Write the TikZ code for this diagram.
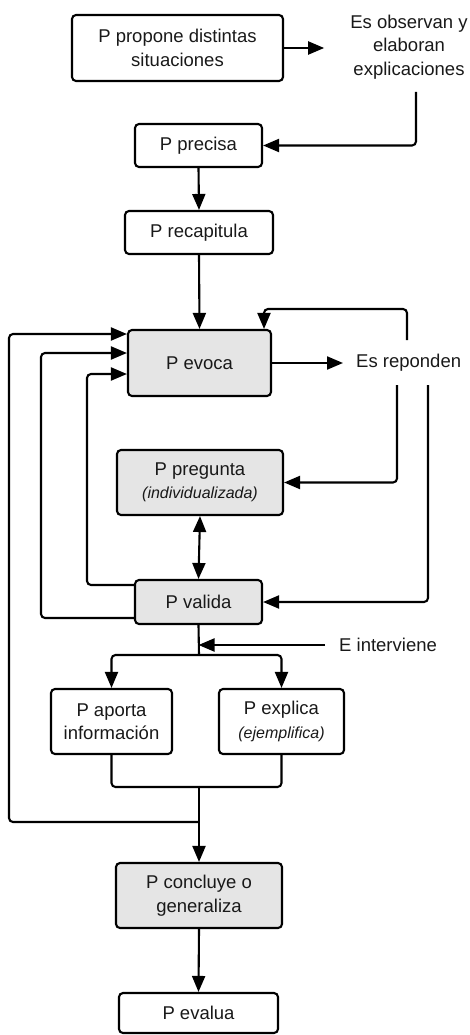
\documentclass[tikz,border=0pt]{standalone}
\usepackage{fontspec}
\setmainfont{Liberation Sans}
\usetikzlibrary{arrows.meta}
\newcommand{\fsmain}{\fontsize{18.5}{23.5}\selectfont}
\newcommand{\fsital}{\fontsize{16}{23}\selectfont\itshape}
\begin{document}
\begin{tikzpicture}[x=1pt,y=-1pt,
  box/.style={draw, line width=2.1pt, rounded corners=4pt, align=center, inner sep=0pt, font=\fsmain, text=black!90},
  graybox/.style={box, fill=gray!20},
  plain/.style={inner sep=0pt, align=center, font=\fsmain, text=black!90},
  conn/.style={line width=2.1pt, rounded corners=4pt},
  arr/.style={conn, -{Triangle[length=16pt,width=13pt]}},
  darr/.style={conn, {Triangle[length=16pt,width=13pt]}-{Triangle[length=16pt,width=13pt]}}
]
\path[use as bounding box] (0,0) rectangle (469,1035);

\node[box, minimum width=211pt, minimum height=66pt] (propone) at (177.5,48) {P propone distintas\\situaciones};
\node[plain] (observan) at (409,47) {Es observan y\\elaboran\\explicaciones};
\node[box, minimum width=127pt, minimum height=43pt] (precisa) at (198.5,145.5) {P precisa};
\node[box, minimum width=148pt, minimum height=43pt] (recap) at (199,232.5) {P recapitula};
\node[graybox, minimum width=143pt, minimum height=66pt] (evoca) at (199.5,363) {P evoca};
\node[plain, anchor=west] (reponden) at (356,363) {Es reponden};
\node[graybox, minimum width=166pt, minimum height=65pt] (pregunta) at (200,482.5) {P pregunta\\{\fsital(individualizada)}};
\node[graybox, minimum width=127pt, minimum height=44pt] (valida) at (198.5,602) {P valida};
\node[plain, anchor=west] (interviene) at (339,645) {E interviene};
\node[box, minimum width=121pt, minimum height=65pt] (aporta) at (111.5,721.5) {P aporta\\información};
\node[box, minimum width=125pt, minimum height=65pt] (explica) at (281.5,721.5) {P explica\\{\fsital(ejemplifica)}};
\node[graybox, minimum width=166pt, minimum height=65pt] (concluye) at (199,895.5) {P concluye o\\generaliza};
\node[box, minimum width=159pt, minimum height=40pt] (evalua) at (198.5,1013) {P evalua};

\coordinate (obs1) at (416,92);
\coordinate (rep1) at (407,340);
\coordinate (rep2) at (397,385);
\coordinate (rep3) at (428,385);
\coordinate (split) at (199,655);
\coordinate (merge) at (199,787);
\coordinate (loopout) at (199,822);

\draw[arr] (propone.east) -- ([xshift=-26pt]observan.west |- propone.east);
\draw[arr] (obs1) |- (precisa.east);
\draw[arr] (precisa.south) -- (recap.north);
\draw[arr] (recap.south) -- (evoca.north);
\draw[arr] (evoca.east) -- ([xshift=-13pt]reponden.west);
\draw[arr] (rep1) -- (407,309) -- (264,309) -- ([xshift=64.5pt]evoca.north);
\draw[arr] (rep2) |- (pregunta.east);
\draw[arr] (rep3) |- (valida.east);
\draw[darr] (pregunta.south) -- (valida.north);
\draw[arr] ([yshift=17pt]valida.west) -- (87,585) -- (87,374) -- ([yshift=-11pt]evoca.west);
\draw[arr] ([yshift=-16pt]valida.west) -- (41,618) -- (41,353) -- ([yshift=10pt]evoca.west);
\draw[arr] (loopout) -- (9,822) -- (9,334) -- ([yshift=29pt]evoca.west);
\draw[conn] (valida.south) -- (split);
\draw[arr] (split) -| (aporta.north);
\draw[arr] (split) -| (explica.north);
\draw[arr] ([xshift=-14pt]interviene.west) -- (valida.south |- interviene.west);
\draw[conn] (aporta.south) |- (merge);
\draw[conn] (explica.south) |- (merge);
\draw[arr] (merge) -- (concluye.north);
\draw[arr] (concluye.south) -- (evalua.north);
\end{tikzpicture}
\end{document}
